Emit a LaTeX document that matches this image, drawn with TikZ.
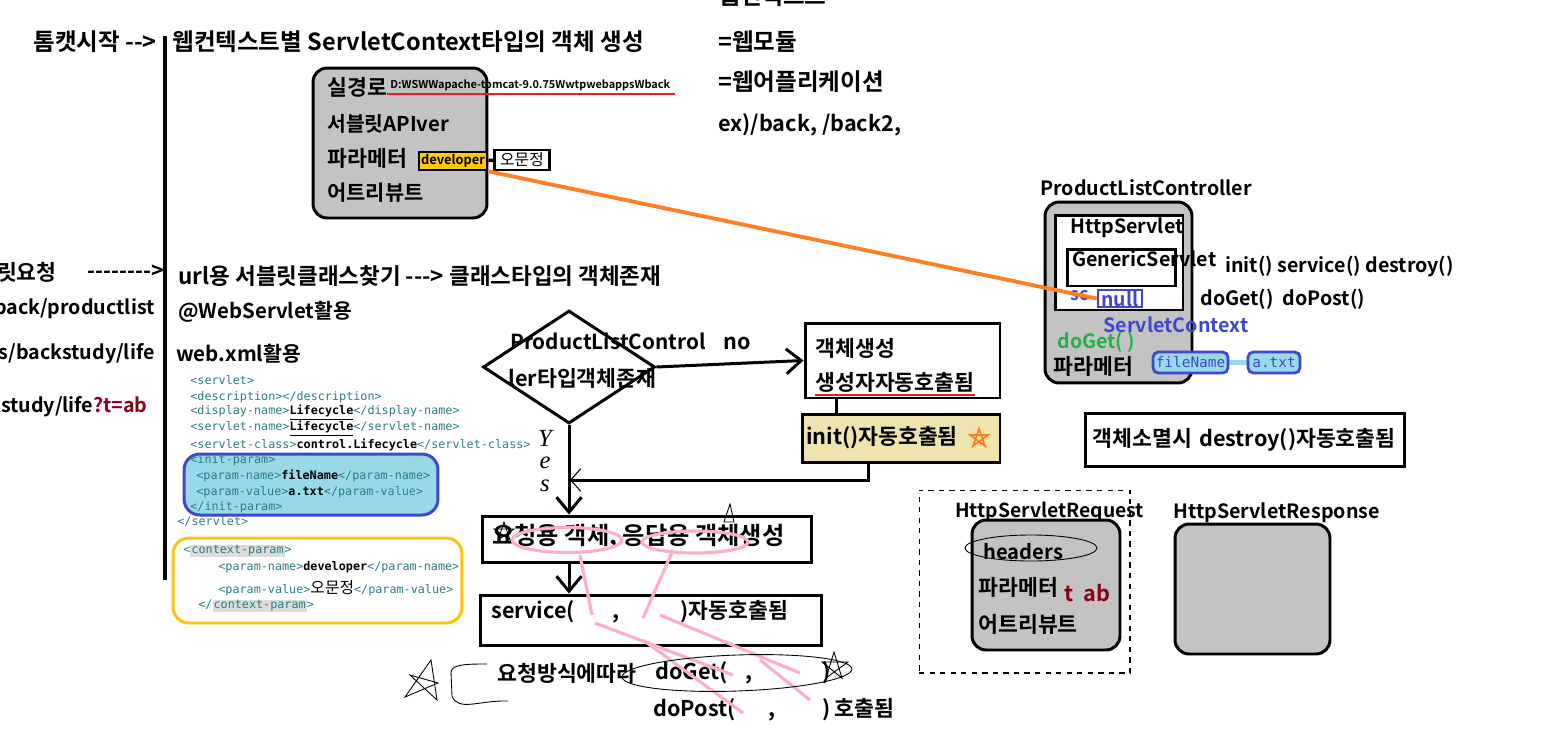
\documentclass[tikz,border=0pt]{standalone}
\usepackage{fontspec}
\setmainfont{Noto Sans CJK KR}[Ligatures=TeXOff, BoldFont={Noto Sans CJK KR Bold}]
\setmonofont{DejaVu Sans Mono}
\newfontfamily\handfont{Liberation Serif}
\usetikzlibrary{positioning,arrows.meta,shapes.geometric,calc}
\definecolor{paintgray}{HTML}{C3C3C3}
\definecolor{paintgold}{HTML}{FFC90E}
\definecolor{paintred}{HTML}{ED1C24}
\definecolor{paintorange}{HTML}{FF7F27}
\definecolor{paintblue}{HTML}{3F48CC}
\definecolor{paintlightblue}{HTML}{99D9EA}
\definecolor{paintgreen}{HTML}{22B14C}
\definecolor{paintpink}{HTML}{FFAEC9}
\definecolor{painttan}{HTML}{EFE4B0}
\definecolor{darkred}{HTML}{880015}
\definecolor{codeteal}{HTML}{2B7C82}
\definecolor{ctxyellow}{HTML}{FFC20E}
\definecolor{hlgray}{HTML}{DCDCDC}
\newcommand{\xv}[1]{{\color{black}\bfseries #1}}
\newcommand{\hlt}[1]{{\setlength{\fboxsep}{0.6pt}\colorbox{hlgray}{#1}}}
\tikzset{
  txt/.style={anchor=west, inner sep=0pt, font=\bfseries\fontsize{12.3}{14}\selectfont},
  ktxt/.style={txt, font=\bfseries\fontsize{13.4}{15}\selectfont},
  ltxt/.style={txt, font=\bfseries\fontsize{11.2}{13}\selectfont},
  pathtxt/.style={anchor=west, inner sep=0pt, font=\bfseries\fontsize{6.2}{7}\selectfont},
  xmlline/.style={anchor=west, inner sep=0pt, text=codeteal, font=\ttfamily\fontsize{6.7}{8}\selectfont},
  greybox/.style={draw, line width=1.7pt, rounded corners=8pt, fill=paintgray, inner sep=0pt},
  frame/.style={draw, line width=1.7pt, inner sep=0pt},
  boxtxt/.style={frame, align=left, font=\bfseries\fontsize{12.3}{14}\selectfont},
  devbox/.style={draw, line width=1.5pt, fill=paintgold, inner sep=0pt, minimum width=1.36cm,
                 minimum height=0.36cm, font=\bfseries\fontsize{7.3}{8}\selectfont},
  valbox/.style={draw, line width=1.5pt, fill=white, inner sep=0pt, minimum width=1.1cm,
                 minimum height=0.4cm, font=\fontsize{9}{10}\selectfont},
  nullbox/.style={draw=paintblue, line width=1.4pt, inner sep=0pt, minimum width=0.88cm,
                  minimum height=0.34cm, text=paintblue, font=\bfseries\fontsize{11}{12}\selectfont},
  parambox/.style={draw=paintblue, line width=1.6pt, fill=paintlightblue, rounded corners=3pt,
                   inner sep=0pt, minimum height=0.42cm, text=paintblue, font=\ttfamily\fontsize{8.2}{9}\selectfont},
  spine/.style={line width=1.8pt},
  flow/.style={-{Straight Barb[length=3mm, width=5mm]}, line width=1.7pt},
  backflow/.style={-{Straight Barb[length=2mm, width=4.5mm, line width=0.6pt]}, line width=1.7pt},
  redline/.style={paintred, line width=1.2pt},
  orangeline/.style={paintorange, line width=2.2pt},
  pinkline/.style={paintpink, line width=1.8pt},
  pen/.style={line width=0.5pt}
}

\begin{document}
\begin{tikzpicture}[x=0.02cm, y=-0.02cm]
\useasboundingbox (0,0) rectangle (1551,748);

% tomcat start
\node[ktxt] (tomcat) at (33,42) {톰캣시작 -->};
\coordinate (spinetop) at (165,36);
\coordinate (spinebot) at (165,580);
\draw[spine] (spinetop) -- (spinebot);
\node[ktxt] (ctxtitle) at (172,42) {웹컨텍스트별 ServletContext타입의 객체 생성};

% web context notes
\node[ktxt] (webctx) at (718,-4) {웹컨텍스트};
\node[ktxt] (webmod) at (718,42) {=웹모듈};
\node[ktxt] (webapp) at (718,82) {=웹어플리케이션};
\node[txt] (exback) at (718,125) {ex)/back, /back2,};

% ServletContext object
\node[greybox, minimum width=3.48cm, minimum height=3cm] (ctxbox) at (400,143) {};
\node[txt] (realpath) at (327,87) {실경로};
\node[pathtxt] (pathval) at (390,85) {D:WSWWapache-tomcat-9.0.75WwtpwebappsWback};
\draw[redline] ($(pathval.south west)+(-3,3)$) -- ($(pathval.south east)+(4,3)$);
\node[txt, font=\bfseries\fontsize{11.6}{13}\selectfont] (apiver) at (327,124) {서블릿APIver};
\node[txt] (ctxparam) at (327,158) {파라메터};
\node[txt, font=\bfseries\fontsize{11.9}{13}\selectfont] (ctxattr) at (327,193) {어트리뷰트};
\node[devbox] (dev) at (453,161) {developer};
\node[valbox] (devval) at (522,160) {오문정};
\draw[line width=2pt] (dev) -- (devval);

% ProductListController object
\node[ltxt] (plc) at (1040,188) {ProductListController};
\node[greybox, minimum width=2.94cm, minimum height=3.62cm] (plcbox) at (1118.5,292.5) {};
\node[frame, fill=white, minimum width=2.56cm, minimum height=1.9cm] (httpbox) at (1119,262.5) {};
\node[frame, minimum width=2.16cm, minimum height=0.74cm] (genbox) at (1121,267.5) {};
\node[ltxt] (httplbl) at (1070,228) {HttpServlet};
\node[ltxt] (genlbl) at (1072,259) {GenericServlet};
\node[txt, text=paintblue, font=\bfseries\fontsize{10}{12}\selectfont] (sclbl) at (1070,296) {sc};
\node[nullbox] (nullbox) at (1120,298.5) {null};
\node[ltxt, text=paintblue] (ctxtype) at (1103,325) {ServletContext};
\node[ltxt, text=paintgreen] (plcdoget) at (1057,342) {doGet( )};
\node[txt] (plcparam) at (1053,366) {파라메터};
\draw[line width=2.5pt, paintlightblue] (1228,362.5) -- (1248,362.5);
\node[parambox, minimum width=1.5cm] (fnbox) at (1190.5,362.5) {fileName};
\node[parambox, minimum width=1.04cm] (atxt) at (1274,362.5) {a.txt};
\node[ltxt] (lifecycle) at (1225,266) {init() service() destroy()};
\node[ltxt] (methods) at (1200,299) {doGet()\ \ doPost()};
\draw[orangeline] (dev.south east) -- (nullbox.west);

\node[boxtxt, minimum width=6.4cm, minimum height=1.06cm, text width=6.1cm] (destroybox)
  at (1245,439.5) {객체소멸시 destroy()자동호출됨};

% request urls
\node[txt, anchor=east] (reqlbl) at (57,272) {서블릿요청};
\node[txt, anchor=east] (reqarrow) at (165,272) {-------->};
\node[ltxt, anchor=east] (url1) at (155,309) {/back/productlist};
\node[ltxt, anchor=east] (url2) at (155,354) {s/backstudy/life};
\node[ltxt, anchor=east] (url3) at (148,407) {/backstudy/life{\color{darkred}?t=ab}};

\node[ktxt, font=\bfseries\fontsize{12.8}{14}\selectfont] (findcls) at (178,276) {url용 서블릿클래스찾기 ---> 클래스타입의 객체존재};
\node[txt, font=\bfseries\fontsize{11.6}{13}\selectfont] (annot) at (178,312) {@WebServlet활용};
\node[txt, font=\bfseries\fontsize{11.7}{13}\selectfont] (webxml) at (176,354) {web.xml활용};

% web.xml
\node[draw=paintblue, line width=1.7pt, fill=paintlightblue, rounded corners=9pt,
      minimum width=5.08cm, minimum height=1.22cm] (initparam) at (311,484.5) {};
\node[draw=ctxyellow, line width=1.7pt, fill=white, rounded corners=9pt,
      minimum width=5.78cm, minimum height=1.7cm] (ctxparambox) at (317.5,580.5) {};
\node[xmlline] (x1) at (190,380) {<servlet>};
\node[xmlline] (x2) at (190,397) {<description></description>};
\node[xmlline] (x3) at (190,413) {<display-name>\xv{\underline{Lifecycle}}</display-name>};
\node[xmlline] (x4) at (190,429) {<servlet-name>\xv{\underline{Lifecycle}}</servlet-name>};
\node[xmlline] (x5) at (190,445) {<servlet-class>\xv{control.Lifecycle}</servlet-class>};
\node[xmlline] (x6) at (190,460) {<init-param>};
\node[xmlline] (x7) at (196,476) {<param-name>\xv{fileName}</param-name>};
\node[xmlline] (x8) at (196,492) {<param-value>\xv{a.txt}</param-value>};
\node[xmlline] (x9) at (190,507) {</init-param>};
\node[xmlline] (x10) at (177,522) {</servlet>};
\node[xmlline] (c1) at (183,551) {<\hlt{context-param}>};
\node[xmlline] (c2) at (218,567) {<param-name>\xv{developer}</param-name>};
\node[xmlline] (c3) at (218,588) {<param-value>{\color{black}\normalfont\fontsize{9}{10}\selectfont 오문정}</param-value>};
\node[xmlline] (c4) at (198,606) {</\hlt{context-param}>};

% lifecycle flow
\node[draw, diamond, line width=1.7pt, minimum width=3.44cm, minimum height=2.26cm, inner sep=0pt]
  (exists) at (569,367) {};
\node[ltxt, font=\bfseries\fontsize{11.8}{13}\selectfont] (exists1) at (510,341) {ProductListControl};
\node[txt] (exists2) at (508,378) {ler타입객체존재};
\node[frame, minimum width=3.9cm, minimum height=1.5cm] (create) at (902.5,360.5) {};
\node[txt] (create1) at (815,348) {객체생성};
\node[txt] (create2) at (815,382) {생성자자동호출됨};
\draw[redline] ($(create2.south west)+(0,3)$) -- ($(create2.south east)+(0,3)$);
\draw[flow] (exists.east) -- (create.west);
\node[txt] (nolbl) at (723,343) {no};
\node[boxtxt, fill=painttan, minimum width=3.96cm, minimum height=0.96cm, text width=3.8cm]
  (initbox) at (901,438) {init()자동호출됨\vphantom{g}\\[2pt]};
\draw[spine] ([xshift=0.66cm]create.south west) -- ([xshift=0.66cm]create.south west |- initbox.north);
\coordinate (merge) at (570,480);
\draw[backflow] ([xshift=1.36cm]initbox.south west) |- (merge);
\node[frame, minimum width=6.6cm, minimum height=0.92cm] (reqres) at (647,539) {};
\node[ktxt, font=\bfseries\fontsize{13.8}{15}\selectfont] (reqrestxt) at (492,537) {요청용 객체, 응답용 객체생성};
\draw[flow] (exists.south) -- (exists.south |- reqres.north);
\node[font=\handfont\itshape\fontsize{14}{14}\selectfont, inner sep=0pt] (yes1) at (545,438) {Y};
\node[font=\handfont\itshape\fontsize{14}{14}\selectfont, inner sep=0pt] (yes2) at (545,463) {e};
\node[font=\handfont\itshape\fontsize{14}{14}\selectfont, inner sep=0pt] (yes3) at (545,486) {s};
\node[frame, minimum width=6.84cm, minimum height=1.0cm] (service) at (651,620) {};
\node[txt] (servicetxt) at (491,612) {service(\hspace{0.75cm},\hspace{1.22cm})자동호출됨};
\draw[flow] (exists.south |- reqres.south) -- (exists.south |- service.north);
\node[txt] (bymethod) at (497,673) {요청방식에따라};
\node[txt] (dogetcall) at (655,673) {doGet(\hspace{0.35cm},\hspace{1.4cm})};
\node[txt] (dopostcall) at (653,710) {doPost(\hspace{0.65cm},\hspace{0.95cm})\,호출됨};

% pen marks
\draw[pinkline] (567,540) ellipse [x radius=55, y radius=12.5];
\draw[pinkline] (695,542) ellipse [x radius=53, y radius=11];
\draw[pinkline] (580,555) -- (592,615);
\draw[pinkline] (673,550) -- (643,618);
\draw[pinkline] (595,623) -- (733,675);
\draw[pinkline] (643,640) -- (743,713);
\draw[pinkline] (660,615) -- (800,673);
\draw[pinkline] (760,660) -- (810,700);
\draw[pen, rotate around={2:(737,673)}] (737,673) ellipse [x radius=115, y radius=18];
\draw[pen] (826,678) -- (834,652) -- (842,678) -- (822,662) -- (848,662) -- cycle;
\draw[pen] (498,540) -- (504,522) -- (510,540) -- (494,529) -- (514,529) -- cycle;
\draw[pen] (724,522) -- (730,504) -- (734,522) -- cycle;
\draw[pen] (405,697) -- (431,660) -- (437,700) -- (410,675) -- (438,683) -- cycle;
\draw[pen] (487,664) .. controls (468,664) and (452,664) .. (451,672) -- (452,696) .. controls (458,712) and (480,700) .. (508,701);
\draw[paintorange, line width=1pt] (973,446) -- (979,429) -- (985,446) -- (970,435) -- (988,435) -- cycle;

% request / response objects
\node[draw, dashed, line width=0.6pt, minimum width=4.22cm, minimum height=3.66cm, inner sep=0pt]
  (reqarea) at (1024.5,581.5) {};
\node[greybox, minimum width=2.96cm, minimum height=2.6cm] (reqbox) at (1046,585) {};
\node[ltxt, font=\bfseries\fontsize{11}{13}\selectfont] (reqtitle) at (955,512) {HttpServletRequest};
\node[ltxt, font=\bfseries\fontsize{11.5}{13}\selectfont] (headers) at (983,552) {headers};
\draw[pen] (1031,548) ellipse [x radius=66, y radius=13];
\node[txt] (reqparam) at (978,587) {파라메터};
\node[txt, text=darkred] (tval) at (1064,593) {t\ \ ab};
\node[txt] (reqattr) at (978,624) {어트리뷰트};
\node[ltxt] (restitle) at (1173,513) {HttpServletResponse};
\node[greybox, minimum width=3.1cm, minimum height=2.6cm] (resbox) at (1252.5,589) {};
\end{tikzpicture}
\end{document}
